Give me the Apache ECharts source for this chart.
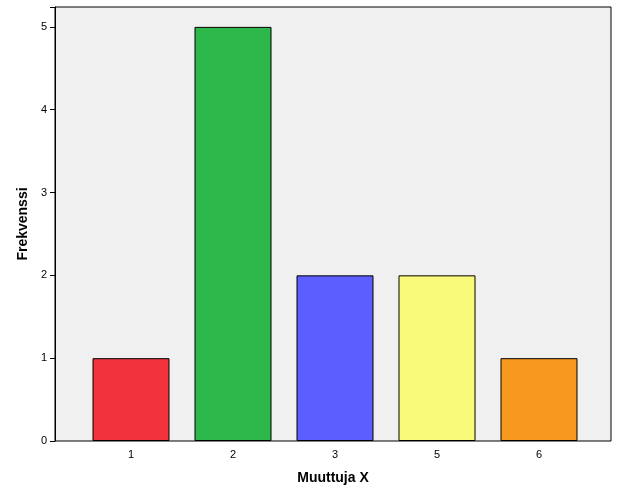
<!DOCTYPE html>
<html><head><meta charset="utf-8">
<script src="https://cdn.jsdelivr.net/npm/echarts@6/dist/echarts.min.js"></script>
<style>html,body{margin:0;padding:0;background:#fff}#c{width:626px;height:501px}</style>
</head><body><div id="c"></div>
<script>
const categories = ['1','2','3','5','6'];
const values = [1,5,2,2,1];
const colors = ['#f2333c','#2eb84b','#5c5eff','#fafa7a','#f8991f'];
const lbl = {fontFamily:'Liberation Sans',fontSize:11,color:'#000'};
const nm = {fontFamily:'Liberation Sans',fontSize:14,fontWeight:'bold',color:'#000'};
const chart = echarts.init(document.getElementById('c'));
chart.setOption({
  animation:false,
  grid:[
    {left:55,right:15,top:7,bottom:60,show:true,backgroundColor:'#f0f0f0',borderColor:'#000',borderWidth:1},
    {left:80,right:36,top:7,bottom:60}
  ],
  xAxis:[
    {gridIndex:0,type:'value',min:0,max:1,show:true,axisLine:{show:false},axisTick:{show:false},axisLabel:{show:false},splitLine:{show:false},
     name:'Muuttuja X',nameLocation:'middle',nameGap:30,nameTextStyle:nm},
    {gridIndex:1,type:'category',data:categories,
     axisLine:{show:false},axisTick:{alignWithLabel:true,length:5,lineStyle:{color:'#000'}},
     axisLabel:lbl}
  ],
  yAxis:[
    {gridIndex:0,type:'value',min:0,max:5.24,interval:1,name:'Frekvenssi',nameLocation:'middle',nameGap:25,nameTextStyle:nm,
     axisLine:{show:true,lineStyle:{color:'#000'}},axisTick:{show:true,length:5,lineStyle:{color:'#000'}},
     splitLine:{show:false},axisLabel:Object.assign({formatter:v=>Number.isInteger(v)?String(v):''},lbl)},
    {gridIndex:1,type:'value',min:0,max:5.24,show:false,splitLine:{show:false}}
  ],
  series:[{type:'bar',xAxisIndex:1,yAxisIndex:1,barWidth:77,
    data:values.map((v,i)=>({value:v,itemStyle:{color:colors[i]}})),
    itemStyle:{borderColor:'#000',borderWidth:1}}]
});
</script></body></html>
